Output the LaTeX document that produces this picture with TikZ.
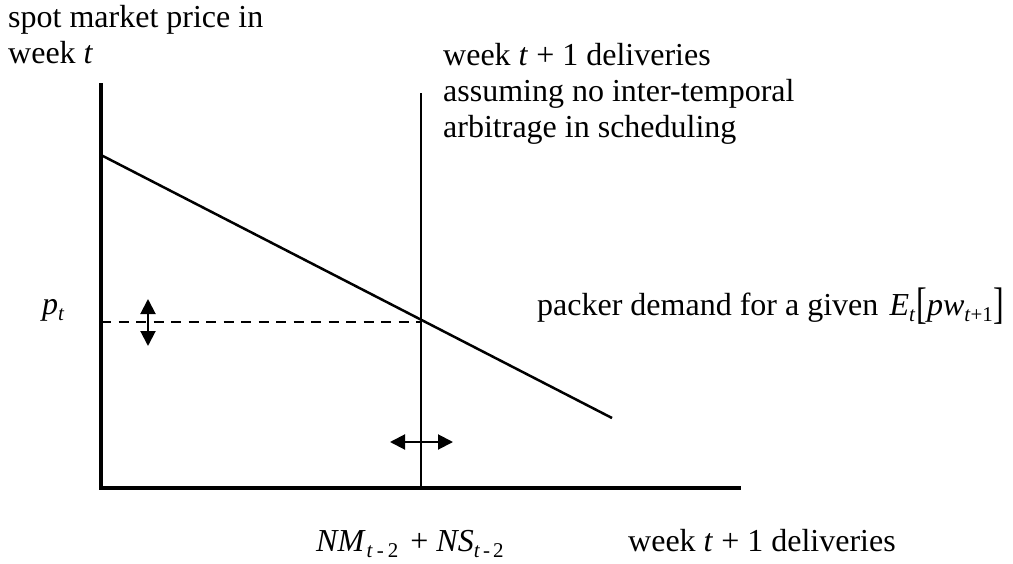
\documentclass[tikz,border=0pt]{standalone}
\usepackage{fontspec}
\setmainfont{Liberation Serif}
\usetikzlibrary{arrows.meta}
\newcommand\lowsub[1]{\raisebox{-0.2em}{\fontsize{21}{21}\selectfont #1}}
\newcommand\tallbr[1]{\raisebox{-0.1em}{\scalebox{1}[1.38]{#1}}}
\begin{document}
\begin{tikzpicture}[x=1pt,y=-1pt,
  axisline/.style={line width=4.5pt},
  plotline/.style={line width=2.5pt},
  shiftarrow/.style={line width=2pt,{Triangle[length=15pt,width=15pt]}-{Triangle[length=15pt,width=15pt]}},
  lbl/.style={font=\fontsize{32}{36}\selectfont, inner sep=0pt, anchor=base west}]
\useasboundingbox (0,0) rectangle (1013,563);
% coordinates
\coordinate (ytop) at (101,83);
\coordinate (origin) at (101,488);
\coordinate (xend) at (741,488);
\coordinate (vtop) at (421,93);
\coordinate (vbot) at (421,488);
\coordinate (dstart) at (101,155);
\coordinate (dend) at (612,418);
\coordinate (pleft) at (101,322);
\coordinate (pright) at (421,322);
\coordinate (uptip) at (148,299);
\coordinate (downtip) at (148,346);
\coordinate (lefttip) at (390,442);
\coordinate (righttip) at (453,442);
% axes
\draw[axisline] (ytop) -- (origin) -- (xend);
% vertical supply line
\draw[plotline] (vtop) -- (vbot);
% demand line
\draw[plotline] (dstart) -- (dend);
% dashed price line
\draw[plotline, line width=2pt, dash pattern=on 10pt off 7.5pt] (pleft) -- (pright);
% shift arrows
\draw[shiftarrow] (uptip) -- (downtip);
\draw[shiftarrow] (lefttip) -- (righttip);
% labels
\node[lbl] (ylab1) at (8,27) {spot market price in};
\node[lbl] (ylab2) at (8,63) {week \textit{t}};
\node[lbl] (vlab1) at (443,65) {week \textit{t} + 1 deliveries};
\node[lbl] (vlab2) at (443,101) {assuming no inter-temporal};
\node[lbl] (vlab3) at (443,137) {arbitrage in scheduling};
\node[lbl] (plab) at (42,314) {\textit{p}\lowsub{\textit{t}}};
\node[lbl] (dlab) at (537,315) {packer demand for a given\hspace{0.35em}\textit{E}\lowsub{\textit{t}}\hspace{1pt}\tallbr{[}\textit{pw}\lowsub{\textit{t}+1}\hspace{1pt}\tallbr{]}};
\node[lbl] (nmlab) at (316,551) {\textit{NM}\lowsub{\hspace{1pt}\textit{t}\hspace{4pt}-\hspace{4pt}2}\hspace{12pt}+\hspace{8pt}\textit{NS}\lowsub{\textit{t}\hspace{3pt}-\hspace{3pt}2}};
\node[lbl] (xlab) at (628,551) {week \textit{t} + 1 deliveries};
\end{tikzpicture}
\end{document}
